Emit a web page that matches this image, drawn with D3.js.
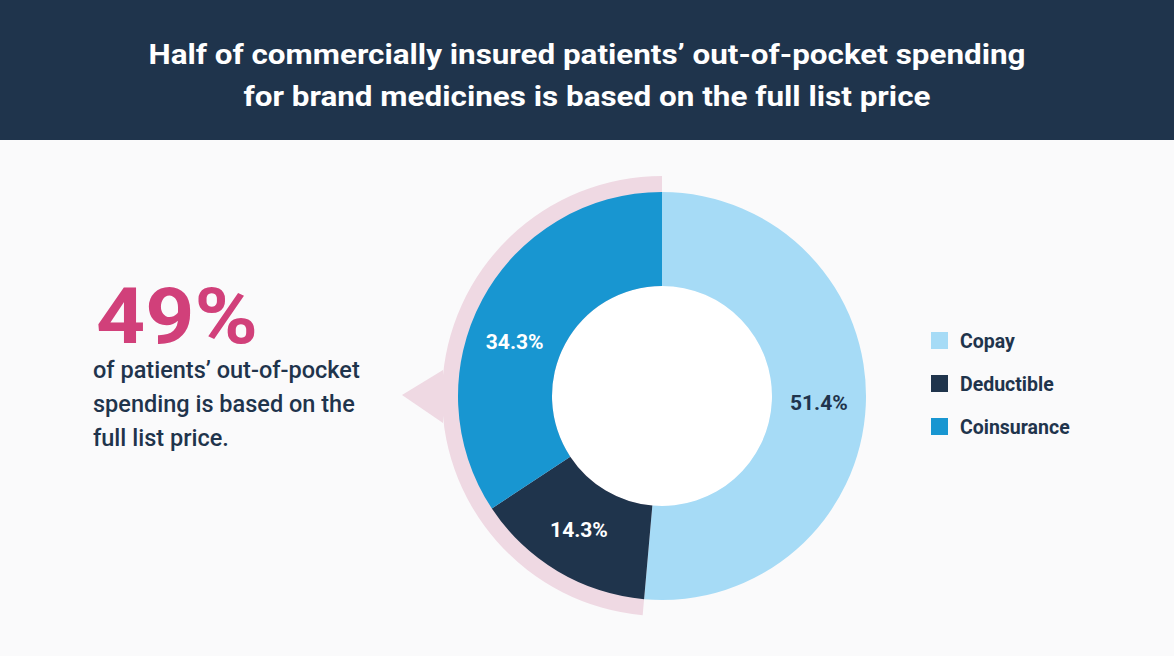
<!DOCTYPE html>
<html><head><meta charset="utf-8">
<script src="https://cdn.jsdelivr.net/npm/d3@7"></script>
<style>html,body{margin:0;padding:0;background:#fafafb;}svg{display:block;}</style>
</head><body>
<svg id="c" width="1174" height="656"></svg>
<script>
const categories = ["Copay", "Deductible", "Coinsurance"];
const values = [51.4, 14.3, 34.3];
const colors = ["#a6dbf6", "#1f344c", "#1896d1"];
const titleLines = ["Half of commercially insured patients’ out-of-pocket spending", "for brand medicines is based on the full list price"];
const bigStat = "49%";
const statLines = ["of patients’ out-of-pocket", "spending is based on the", "full list price."];

const svg = d3.select("#c");
const W = 1174, H = 656;
svg.append("rect").attr("width", W).attr("height", H).attr("fill", "#fafafb");
svg.append("rect").attr("width", W).attr("height", 140).attr("fill", "#1f344c");

const titleLens = [877, 687];
svg.selectAll("text.title").data(titleLines).join("text")
  .attr("class", "title")
  .attr("x", W / 2).attr("y", (d, i) => 64 + i * 42)
  .attr("text-anchor", "middle")
  .attr("fill", "#fff")
  .attr("font-family", "Roboto, sans-serif").attr("font-weight", 700).attr("font-size", 28)
  .attr("textLength", (d, i) => titleLens[i]).attr("lengthAdjust", "spacingAndGlyphs")
  .text(d => d);

const cx = 662, cy = 396, rOuter = 204, rInner = 110, rShadow = 220;
const pie = d3.pie().sort(null).value(d => d);
const arcs = pie(values);
const g = svg.append("g").attr("transform", `translate(${cx},${cy})`);

// pink shadow behind the non-copay slices
const shadowArc = d3.arc().innerRadius(0).outerRadius(rShadow)
  .startAngle(arcs[0].endAngle).endAngle(2 * Math.PI);
g.append("path").attr("d", shadowArc()).attr("fill", "#efd9e3");
g.append("path").attr("d", "M-219,-26 L-260,-1 L-219,27 Z").attr("fill", "#efd9e3");

g.append("circle").attr("r", rInner).attr("fill", "#fff");
const arc = d3.arc().innerRadius(rInner).outerRadius(rOuter);
g.selectAll("path.slice").data(arcs).join("path")
  .attr("class", "slice").attr("d", arc).attr("fill", (d, i) => colors[i]);

// label positions: slightly shifted angle for the left slices
const labelShift = [0, 0.02, -0.14];
g.selectAll("text.lbl").data(arcs).join("text")
  .attr("class", "lbl")
  .attr("transform", (d, i) => {
    const a = (d.startAngle + d.endAngle) / 2 + labelShift[i];
    const r = (rInner + rOuter) / 2;
    return `translate(${r * Math.sin(a)},${-r * Math.cos(a)})`;
  })
  .attr("text-anchor", "middle").attr("dy", "0.36em")
  .attr("fill", (d, i) => i === 0 ? "#1f344c" : "#fff")
  .attr("font-family", "Roboto, sans-serif").attr("font-weight", 700).attr("font-size", 21)
  .text(d => d.data.toFixed(1) + "%");

// legend
const lg = svg.append("g");
const ly = d3.scalePoint().domain(categories).range([341, 427]);
lg.selectAll("rect").data(categories).join("rect")
  .attr("x", 931).attr("y", d => ly(d) - 9).attr("width", 17).attr("height", 17)
  .attr("fill", (d, i) => colors[i]);
lg.selectAll("text").data(categories).join("text")
  .attr("x", 960).attr("y", d => ly(d)).attr("dy", "0.35em")
  .attr("fill", "#1f344c")
  .attr("font-family", "Roboto, sans-serif").attr("font-weight", 700).attr("font-size", 19.5)
  .text(d => d);

// stat
svg.append("text").attr("x", 96).attr("y", 343)
  .attr("fill", "#d1407a")
  .attr("font-family", "Roboto, sans-serif").attr("font-weight", 700).attr("font-size", 78)
  .attr("textLength", 162).attr("lengthAdjust", "spacingAndGlyphs")
  .text(bigStat);
svg.selectAll("text.stat").data(statLines).join("text")
  .attr("class", "stat")
  .attr("x", 93).attr("y", (d, i) => 378 + i * 34)
  .attr("fill", "#1f344c")
  .attr("font-family", "Roboto, sans-serif").attr("font-weight", 500).attr("font-size", 23.5)
  .text(d => d);
</script>
</body></html>
